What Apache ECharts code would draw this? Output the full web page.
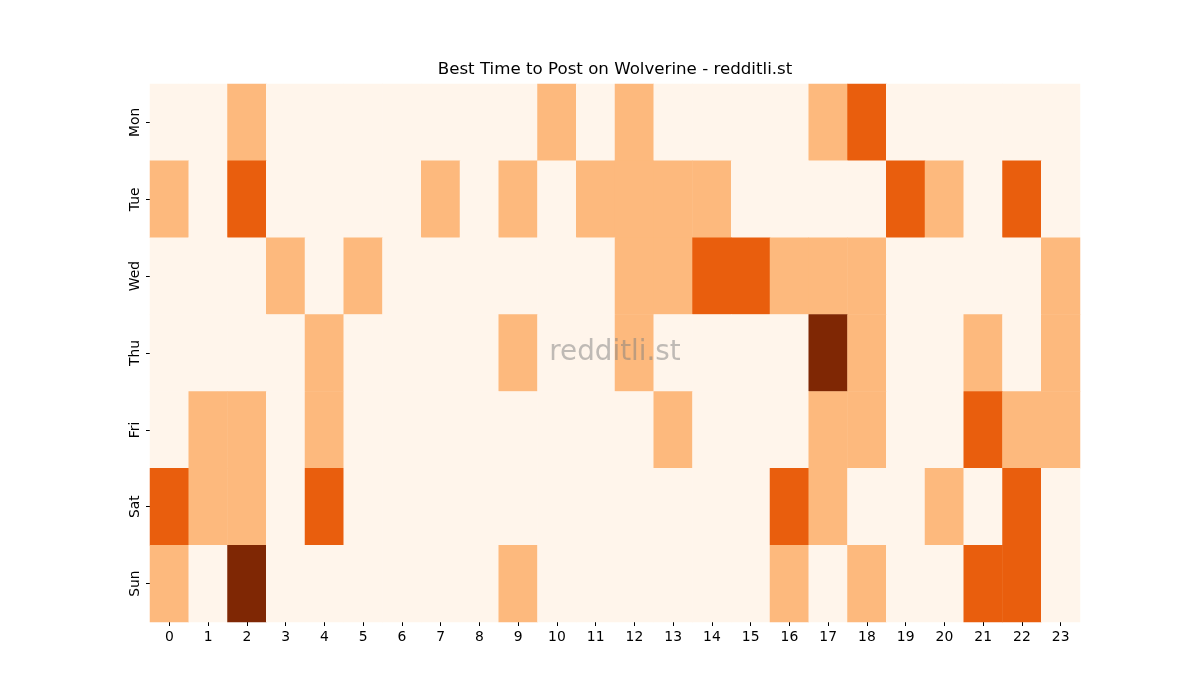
<!DOCTYPE html>
<html>
<head>
<meta charset="utf-8">
<script src="https://cdn.jsdelivr.net/npm/echarts@6/dist/echarts.min.js"></script>
<style>html,body{margin:0;padding:0;background:#fff}#c{width:1200px;height:700px}</style>
</head>
<body>
<div id="c"></div>
<script>
const hours = ['0','1','2','3','4','5','6','7','8','9','10','11','12','13','14','15','16','17','18','19','20','21','22','23'];
const days = ['Mon','Tue','Wed','Thu','Fri','Sat','Sun'];
const mon = [0,0,1,0,0,0,0,0,0,0,1,0,1,0,0,0,0,1,2,0,0,0,0,0];
const tue = [1,0,2,0,0,0,0,1,0,1,0,1,1,1,1,0,0,0,0,2,1,0,2,0];
const wed = [0,0,0,1,0,1,0,0,0,0,0,0,1,1,2,2,1,1,1,0,0,0,0,1];
const thu = [0,0,0,0,1,0,0,0,0,1,0,0,1,0,0,0,0,3,1,0,0,1,0,1];
const fri = [0,1,1,0,1,0,0,0,0,0,0,0,0,1,0,0,0,1,1,0,0,2,1,1];
const sat = [2,1,1,0,2,0,0,0,0,0,0,0,0,0,0,0,2,1,0,0,1,0,2,0];
const sun = [1,0,3,0,0,0,0,0,0,1,0,0,0,0,0,0,1,0,1,0,0,2,2,0];
const rows = [mon,tue,wed,thu,fri,sat,sun];
const data = [];
rows.forEach((r,y)=>r.forEach((v,x)=>data.push([x,y,v])));
const font = 'DejaVu Sans';
const chart = echarts.init(document.getElementById('c'));
chart.setOption({
  backgroundColor:'#fff',
  animation:false,
  grid:{left:150,right:120,top:84,bottom:78},
  xAxis:{type:'category',data:hours,
    axisLine:{show:false},
    axisTick:{show:true,alignWithLabel:true,length:4,lineStyle:{color:'#000'}},
    axisLabel:{fontFamily:font,fontSize:13.9,color:'#000',margin:8},
    splitLine:{show:false}},
  yAxis:{type:'category',data:days,inverse:true,
    axisLine:{show:false},
    axisTick:{show:true,alignWithLabel:true,length:4,lineStyle:{color:'#000'}},
    axisLabel:{fontFamily:font,fontSize:13.9,color:'#000',rotate:90,margin:8},
    splitLine:{show:false}},
  visualMap:{show:false,type:'piecewise',dimension:2,
    pieces:[{value:0,color:'#fff5eb'},{value:1,color:'#fdb97d'},{value:2,color:'#e95e0d'},{value:3,color:'#7f2704'}]},
  series:[{type:'heatmap',data:data,itemStyle:{borderWidth:0},emphasis:{disabled:true}}],
  graphic:[
    {type:'text',x:615,y:70,z:100,
      style:{text:'Best Time to Post on Wolverine - redditli.st',fontFamily:font,fontSize:16.67,fill:'#000',align:'center',verticalAlign:'middle'}},
    {type:'text',x:615,y:353,z:100,
      style:{text:'redditli.st',fontFamily:font,fontSize:27.8,fill:'rgba(128,128,128,0.5)',align:'center',verticalAlign:'middle'}}]
});
</script>
</body>
</html>
